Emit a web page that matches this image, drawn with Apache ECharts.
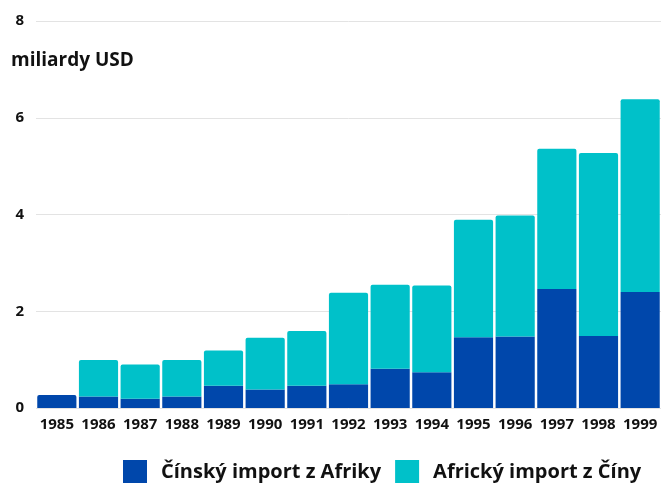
<!DOCTYPE html>
<html><head><meta charset="utf-8">
<script src="https://cdn.jsdelivr.net/npm/echarts@6/dist/echarts.min.js"></script>
<style>html,body{margin:0;padding:0;background:#fff}#c{width:661px;height:483px}</style>
</head><body><div id="c"></div>
<script>
const years = ['1985','1986','1987','1988','1989','1990','1991','1992','1993','1994','1995','1996','1997','1998','1999'];
const chinaImportFromAfrica = [0.27,0.24,0.19,0.24,0.46,0.38,0.46,0.49,0.81,0.74,1.46,1.48,2.46,1.49,2.40];
const africaImportFromChina = [0,0.75,0.71,0.75,0.73,1.07,1.13,1.89,1.74,1.79,2.43,2.50,2.90,3.78,3.98];
const yTicks = [0,2,4,6,8];
const seriesNames = ['Čínský import z Afriky','Africký import z Číny'];
const unitLabel = 'miliardy USD';

const font = '"Open Sans", sans-serif';
const chart = echarts.init(document.getElementById('c'), null, {renderer:'canvas'});
const darkData = chinaImportFromAfrica.map((v,i)=> africaImportFromChina[i] > 0 ? v : {value:v, itemStyle:{borderRadius:[2,2,0,0]}});
chart.setOption({
  animation:false,
  textStyle:{fontFamily:font},
  title:{text:unitLabel,left:6,top:46,textStyle:{fontFamily:font,fontWeight:'bold',fontSize:19,color:'#111'}},
  grid:{left:36,right:0,top:21,bottom:75},
  legend:{left:118,top:455,itemWidth:24,itemHeight:24,itemGap:14,icon:'rect',
    textStyle:{fontFamily:font,fontWeight:'bold',fontSize:20,color:'#111',padding:[0,0,0,9]},
    data:seriesNames},
  xAxis:{type:'category',data:years,
    axisLine:{show:false},axisTick:{show:false},
    axisLabel:{margin:9,fontFamily:font,fontWeight:'bold',fontSize:15,color:'#111',interval:0}},
  yAxis:{type:'value',min:yTicks[0],max:yTicks[yTicks.length-1],interval:2,
    axisLabel:{margin:12,fontFamily:font,fontWeight:'bold',fontSize:15,color:'#111'},
    splitLine:{lineStyle:{color:'#e3e3e3',width:1}}},
  series:[
    {name:seriesNames[0],type:'bar',stack:'t',data:darkData,barCategoryGap:'6%',
     itemStyle:{color:'#0047ab'}},
    {name:seriesNames[1],type:'bar',stack:'t',data:africaImportFromChina,barCategoryGap:'6%',
     itemStyle:{color:'#00c1c9',borderRadius:[2,2,0,0]}}
  ]
});
</script></body></html>
